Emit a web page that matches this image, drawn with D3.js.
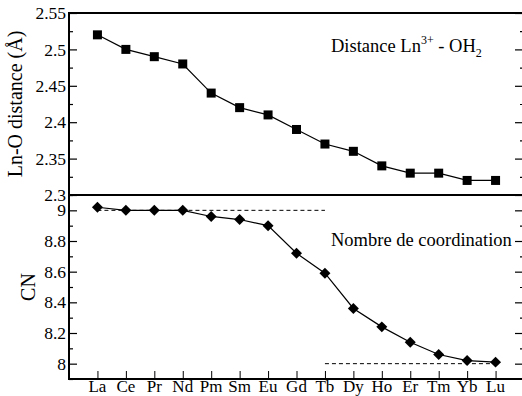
<!DOCTYPE html>
<html><head><meta charset="utf-8">
<script src="https://cdn.jsdelivr.net/npm/d3@7"></script>
<style>body{margin:0;background:#fff}svg{display:block}</style>
</head><body><svg id="c" width="522" height="396" font-family="'Liberation Serif', 'Times New Roman', serif"></svg>
<script>
const categories = ["La","Ce","Pr","Nd","Pm","Sm","Eu","Gd","Tb","Dy","Ho","Er","Tm","Yb","Lu"];
const distance = [2.52,2.50,2.49,2.48,2.44,2.42,2.41,2.39,2.37,2.36,2.34,2.33,2.33,2.32,2.32];
const cn = [9.02,9.0,9.0,9.0,8.96,8.94,8.90,8.72,8.59,8.36,8.24,8.14,8.06,8.02,8.01];
const topTicks = [2.3,2.35,2.4,2.45,2.5,2.55];
const topMinor = [2.325,2.375,2.425,2.475,2.525];
const botTicks = [8,8.2,8.4,8.6,8.8,9];
const botMinor = [7.9,8.1,8.3,8.5,8.7,8.9,9.1];
const refLevels = [{v:9, from:"La", to:"Tb"},{v:8, from:"Tb", to:"Lu"}];

const svg = d3.select("#c");
const L=69, R=524, T=13, M=195, B=379;
const x = d3.scaleLinear().domain([0,categories.length+1]).range([L,R]);
const xi = c => x(categories.indexOf(c)+1);
const yT = d3.scaleLinear().domain([2.3,2.55]).range([M,T]);
const yB = d3.scaleLinear().domain([7.9,9.1]).range([B,M]);

function yAxes(y, major, minor, fmt){
  const gl = svg.append("g").attr("transform",`translate(${L},0)`)
    .call(d3.axisRight(y).tickValues(major).tickSize(8).tickFormat(""));
  gl.select(".domain").remove();
  gl.selectAll("line").attr("stroke","#000").attr("stroke-width",1.2);
  const gm = svg.append("g").attr("transform",`translate(${L},0)`)
    .call(d3.axisRight(y).tickValues(minor).tickSize(4).tickFormat(""));
  gm.select(".domain").remove();
  gm.selectAll("line").attr("stroke","#000").attr("stroke-width",1.2);
  svg.append("g").selectAll("text").data(major).join("text")
    .attr("x",L-3).attr("y",d=>y(d)).attr("dy","0.35em")
    .attr("text-anchor","end").attr("font-size",17.5).attr("fill","#000").text(fmt);
  const gr = svg.append("g").attr("transform",`translate(${R},0)`)
    .call(d3.axisLeft(y).tickValues(major).tickSize(9).tickFormat(""));
  gr.select(".domain").remove();
  gr.selectAll("line").attr("stroke","#000").attr("stroke-width",1.2);
  const grm = svg.append("g").attr("transform",`translate(${R},0)`)
    .call(d3.axisLeft(y).tickValues(minor).tickSize(4).tickFormat(""));
  grm.select(".domain").remove();
  grm.selectAll("line").attr("stroke","#000").attr("stroke-width",1.2);
}
yAxes(yT, topTicks, topMinor, d=>String(+d.toFixed(2)));
yAxes(yB, botTicks, botMinor, d=>String(+d.toFixed(1)));

const gx = svg.append("g").attr("transform",`translate(0,${B})`)
  .call(d3.axisTop(x).tickValues(categories.map((c,i)=>i+1)).tickSize(8).tickFormat(""));
gx.select(".domain").remove();
gx.selectAll("line").attr("stroke","#000").attr("stroke-width",1);
svg.append("g").selectAll("text").data(categories).join("text")
  .attr("x",d=>xi(d)).attr("y",392).attr("text-anchor","middle").attr("font-size",17).attr("fill","#000").text(d=>d);

svg.append("rect").attr("x",L).attr("y",T).attr("width",R-L).attr("height",B-T)
  .attr("fill","none").attr("stroke","#000").attr("stroke-width",2);
svg.append("line").attr("x1",L).attr("x2",R).attr("y1",M).attr("y2",M).attr("stroke","#000").attr("stroke-width",2);

svg.append("g").selectAll("line").data(refLevels).join("line")
  .attr("x1",d=>xi(d.from)).attr("x2",d=>xi(d.to)).attr("y1",d=>yB(d.v)).attr("y2",d=>yB(d.v))
  .attr("stroke","#000").attr("stroke-width",1).attr("stroke-dasharray","4,3");

svg.append("path").datum(distance)
  .attr("d",d3.line().x((d,i)=>x(i+1)).y(d=>yT(d)))
  .attr("fill","none").attr("stroke","#000").attr("stroke-width",1.2);
svg.append("g").selectAll("rect").data(distance).join("rect")
  .attr("x",(d,i)=>x(i+1)-4.5).attr("y",d=>yT(d)-4.5).attr("width",9).attr("height",9).attr("fill","#000");

svg.append("path").datum(cn)
  .attr("d",d3.line().x((d,i)=>x(i+1)).y(d=>yB(d)))
  .attr("fill","none").attr("stroke","#000").attr("stroke-width",1.2);
svg.append("g").selectAll("path.m").data(cn).join("path").attr("class","m")
  .attr("d",d3.symbol().type(d3.symbolSquare).size(60))
  .attr("transform",(d,i)=>`translate(${x(i+1)},${yB(d)}) rotate(45)`).attr("fill","#000");

svg.append("text").attr("transform",`translate(22,${(T+M)/2}) rotate(-90)`)
  .attr("text-anchor","middle").attr("font-size",20).attr("fill","#000").text("Ln-O distance (Å)");
svg.append("text").attr("transform",`translate(35,${(M+B)/2}) rotate(-90)`)
  .attr("text-anchor","middle").attr("font-size",20).attr("fill","#000").text("CN");

const t1 = svg.append("text").attr("x",331).attr("y",52).attr("font-size",18.5).attr("fill","#000");
t1.append("tspan").text("Distance Ln");
t1.append("tspan").attr("font-size",12).attr("dy",-8).text("3+");
t1.append("tspan").attr("dy",8).text(" - OH");
t1.append("tspan").attr("font-size",12).attr("dy",5).text("2");
svg.append("text").attr("x",331).attr("y",246).attr("font-size",18.5).attr("fill","#000").text("Nombre de coordination");
</script></body></html>
